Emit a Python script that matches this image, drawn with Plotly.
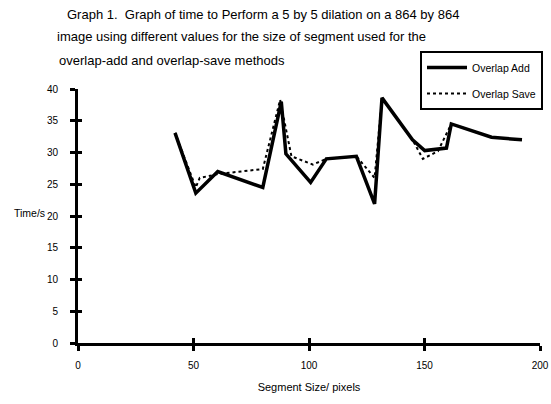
import plotly.graph_objects as go

add_x = [42, 51, 60.5, 80, 88, 90, 100.7, 107.5, 120.5, 128.4, 131.6, 144.8, 150.1, 159.5, 161.6, 179, 192.2]
add_y = [33.1, 23.6, 27.0, 24.5, 38.0, 29.8, 25.3, 29.0, 29.4, 21.9, 38.6, 32.0, 30.3, 30.7, 34.5, 32.4, 32.0]

save_x = [42, 51, 52.7, 60.5, 80, 87.5, 92.4, 101.7, 107.5, 120.5, 128.4, 131.6, 144.8, 149.3, 155.8, 161.6, 179, 192.2]
save_y = [33.1, 24.5, 26.0, 26.6, 27.4, 38.3, 29.4, 28.1, 29.0, 29.4, 26.0, 38.6, 32.0, 29.0, 30.2, 34.5, 32.4, 32.0]

x_ticks = [0, 50, 100, 150, 200]
y_ticks = [0, 5, 10, 15, 20, 25, 30, 35, 40]

title_lines = [
    "Graph 1.  Graph of time to Perform a 5 by 5 dilation on a 864 by 864",
    "image using different values for the size of segment used for the",
    "overlap-add and overlap-save methods",
]

FONT = "Liberation Sans, Arial, sans-serif"
L, T, R, B = 78, 89, 11, 61
W, H = 551, 404
PW, PH = W - L - R, H - T - B

fig = go.Figure()
fig.add_trace(go.Scatter(x=save_x, y=save_y, mode="lines", name="Overlap Save",
                         line=dict(color="black", width=2, dash="dot"), showlegend=False))
fig.add_trace(go.Scatter(x=add_x, y=add_y, mode="lines", name="Overlap Add", legendgroup="a",
                         line=dict(color="black", width=3.5)))
fig.add_trace(go.Scatter(x=[None], y=[None], mode="lines", name="Overlap Save", legendgroup="b",
                         line=dict(color="black", width=2, dash="dot")))
fig.add_trace(go.Scatter(x=[None], y=[None], xaxis="x2", yaxis="y2", showlegend=False))

axis_common = dict(showgrid=False, zeroline=False, linecolor="black", linewidth=3,
                   tickcolor="black", tickwidth=3, ticklen=5, automargin=False,
                   tickfont=dict(family=FONT, size=10, color="black"))

fig.update_layout(
    width=W, height=H,
    margin=dict(l=L, r=R, t=T, b=B, autoexpand=False),
    paper_bgcolor="white", plot_bgcolor="white",
    font=dict(family=FONT, color="black"),
    xaxis=dict(range=[0, 200], tickvals=x_ticks, ticks="outside", showline=True,
               ticklabelstandoff=6,
               title=dict(text="Segment Size/ pixels", font=dict(size=11), standoff=14),
               **axis_common),
    yaxis=dict(range=[0, 40], tickvals=y_ticks, ticks="outside", showline=True,
               ticklabelstandoff=10, title=dict(text=""), **axis_common),
    xaxis2=dict(range=[0, 200], tickvals=x_ticks, ticks="inside", showline=False,
                showticklabels=False, overlaying="x", anchor="y2", showgrid=False,
                zeroline=False, tickcolor="black", tickwidth=3, ticklen=5, automargin=False),
    yaxis2=dict(range=[0, 40], tickvals=y_ticks, ticks="inside", showline=False,
                showticklabels=False, overlaying="y", anchor="x2", showgrid=False,
                zeroline=False, tickcolor="black", tickwidth=3, ticklen=4, automargin=False),
    legend=dict(x=(420 - L) / PW, y=(H - B - 51) / PH, xanchor="left", yanchor="top",
                bordercolor="black", borderwidth=2, bgcolor="white",
                font=dict(family=FONT, size=10.5), tracegroupgap=7, itemwidth=40),
    showlegend=True,
)

fig.add_annotation(text="Time/s", xref="paper", yref="paper", x=(47 - L) / PW, y=(H - B - 213) / PH,
                   xanchor="right", yanchor="middle", showarrow=False,
                   font=dict(family=FONT, size=10.5))

title_pos = [(65, 14), (55, 37), (57, 60)]
for line, (px, py) in zip(title_lines, title_pos):
    fig.add_annotation(text=line, xref="paper", yref="paper",
                       x=(px - L) / PW, y=(H - B - py) / PH,
                       xanchor="left", yanchor="middle", showarrow=False,
                       font=dict(family=FONT, size=13))

fig.write_html("out.html", config={"displayModeBar": False},
               post_script="document.body.style.margin='0px';")
